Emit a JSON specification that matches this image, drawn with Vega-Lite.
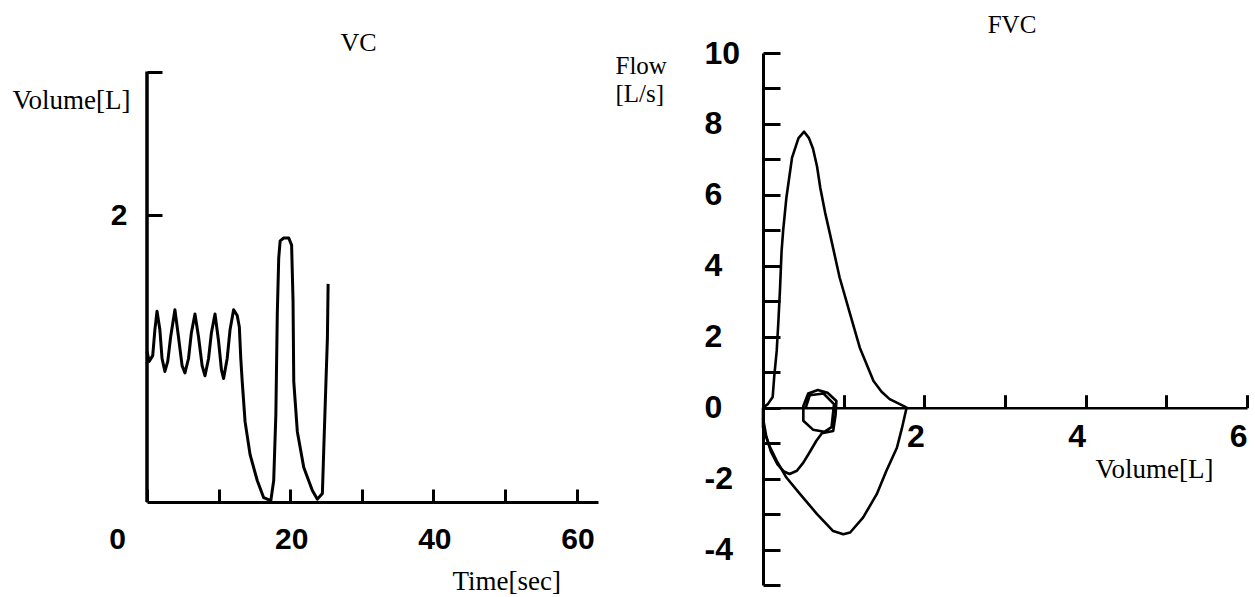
{
  "$schema": "https://vega.github.io/schema/vega-lite/v6.json",
  "background": "white",
  "padding": {"left": 12, "top": 13, "right": 0, "bottom": 0},
  "bounds": "flush",
  "spacing": 165,
  "config": {
    "view": {"stroke": null},
    "title": {"font": "Liberation Serif", "fontWeight": "normal", "fontSize": 25, "color": "black"},
    "axis": {
      "grid": false,
      "domainColor": "black",
      "tickColor": "black",
      "labelColor": "black",
      "titleColor": "black",
      "domainWidth": 3,
      "tickWidth": 3,
      "labelFont": "Liberation Sans",
      "labelFontWeight": "bold",
      "labelFontSize": 30,
      "titleFont": "Liberation Serif",
      "titleFontWeight": "normal",
      "titleFontSize": 27,
      "labelOverlap": false,
      "labelFlush": false,
      "labelBound": false
    }
  },
  "datasets": {
    "vc": [
      {"i": 0, "t": 0, "v": 1.05}, {"i": 1, "t": 0.3, "v": 0.98}, {"i": 2, "t": 0.8, "v": 1.02},
      {"i": 3, "t": 1.1, "v": 1.2}, {"i": 4, "t": 1.4, "v": 1.33}, {"i": 5, "t": 1.8, "v": 1.2},
      {"i": 6, "t": 2.1, "v": 1.0}, {"i": 7, "t": 2.5, "v": 0.91}, {"i": 8, "t": 2.9, "v": 0.98},
      {"i": 9, "t": 3.3, "v": 1.15}, {"i": 10, "t": 3.9, "v": 1.34}, {"i": 11, "t": 4.4, "v": 1.15},
      {"i": 12, "t": 4.9, "v": 0.95}, {"i": 13, "t": 5.3, "v": 0.9}, {"i": 14, "t": 5.8, "v": 1.0},
      {"i": 15, "t": 6.2, "v": 1.18}, {"i": 16, "t": 6.7, "v": 1.31}, {"i": 17, "t": 7.2, "v": 1.15},
      {"i": 18, "t": 7.7, "v": 0.95}, {"i": 19, "t": 8.1, "v": 0.88}, {"i": 20, "t": 8.6, "v": 1.0},
      {"i": 21, "t": 9.0, "v": 1.18}, {"i": 22, "t": 9.5, "v": 1.31}, {"i": 23, "t": 10.0, "v": 1.12},
      {"i": 24, "t": 10.4, "v": 0.92}, {"i": 25, "t": 10.7, "v": 0.86}, {"i": 26, "t": 11.2, "v": 1.0},
      {"i": 27, "t": 11.6, "v": 1.2}, {"i": 28, "t": 12.1, "v": 1.34}, {"i": 29, "t": 12.6, "v": 1.3},
      {"i": 30, "t": 12.9, "v": 1.22}, {"i": 31, "t": 13.1, "v": 1.0}, {"i": 32, "t": 13.3, "v": 0.84},
      {"i": 33, "t": 13.7, "v": 0.56}, {"i": 34, "t": 14.4, "v": 0.33}, {"i": 35, "t": 15.4, "v": 0.15},
      {"i": 36, "t": 16.3, "v": 0.03}, {"i": 37, "t": 17.3, "v": 0.01}, {"i": 38, "t": 17.7, "v": 0.15},
      {"i": 39, "t": 18.0, "v": 0.61}, {"i": 40, "t": 18.2, "v": 1.31}, {"i": 41, "t": 18.4, "v": 1.7},
      {"i": 42, "t": 18.6, "v": 1.82}, {"i": 43, "t": 19.1, "v": 1.84}, {"i": 44, "t": 19.8, "v": 1.84},
      {"i": 45, "t": 20.2, "v": 1.79}, {"i": 46, "t": 20.4, "v": 1.4}, {"i": 47, "t": 20.5, "v": 0.84},
      {"i": 48, "t": 21.0, "v": 0.49}, {"i": 49, "t": 21.9, "v": 0.24}, {"i": 50, "t": 23.1, "v": 0.08},
      {"i": 51, "t": 23.8, "v": 0.02}, {"i": 52, "t": 24.5, "v": 0.06}, {"i": 53, "t": 24.7, "v": 0.38},
      {"i": 54, "t": 25.0, "v": 0.84}, {"i": 55, "t": 25.2, "v": 1.14}, {"i": 56, "t": 25.3, "v": 1.52}
    ],
    "vcaxis": [{"t": 0, "v": 0, "v2": 3}],
    "fvc": [
      {"s": "a", "i": 0, "vol": 0, "f": 0}, {"s": "a", "i": 1, "vol": 0.06, "f": 0.1},
      {"s": "a", "i": 2, "vol": 0.12, "f": 0.3}, {"s": "a", "i": 3, "vol": 0.14, "f": 0.9},
      {"s": "a", "i": 4, "vol": 0.17, "f": 1.6}, {"s": "a", "i": 5, "vol": 0.19, "f": 2.4},
      {"s": "a", "i": 6, "vol": 0.21, "f": 3.3}, {"s": "a", "i": 7, "vol": 0.23, "f": 4.4},
      {"s": "a", "i": 8, "vol": 0.25, "f": 5.0}, {"s": "a", "i": 9, "vol": 0.29, "f": 5.92},
      {"s": "a", "i": 10, "vol": 0.36, "f": 7.05}, {"s": "a", "i": 11, "vol": 0.44, "f": 7.6},
      {"s": "a", "i": 12, "vol": 0.51, "f": 7.78}, {"s": "a", "i": 13, "vol": 0.57, "f": 7.6},
      {"s": "a", "i": 14, "vol": 0.62, "f": 7.3}, {"s": "a", "i": 15, "vol": 0.67, "f": 6.8},
      {"s": "a", "i": 16, "vol": 0.71, "f": 6.2}, {"s": "a", "i": 17, "vol": 0.77, "f": 5.5},
      {"s": "a", "i": 18, "vol": 0.83, "f": 4.9}, {"s": "a", "i": 19, "vol": 0.95, "f": 3.67},
      {"s": "a", "i": 20, "vol": 1.08, "f": 2.64}, {"s": "a", "i": 21, "vol": 1.2, "f": 1.69},
      {"s": "a", "i": 22, "vol": 1.37, "f": 0.75}, {"s": "a", "i": 23, "vol": 1.47, "f": 0.45},
      {"s": "a", "i": 24, "vol": 1.57, "f": 0.24}, {"s": "a", "i": 25, "vol": 1.74, "f": 0.05},
      {"s": "a", "i": 26, "vol": 1.78, "f": 0}, {"s": "a", "i": 27, "vol": 1.72, "f": -0.6},
      {"s": "a", "i": 28, "vol": 1.66, "f": -1.13}, {"s": "a", "i": 29, "vol": 1.53, "f": -1.78},
      {"s": "a", "i": 30, "vol": 1.41, "f": -2.44}, {"s": "a", "i": 31, "vol": 1.24, "f": -3.1},
      {"s": "a", "i": 32, "vol": 1.08, "f": -3.52}, {"s": "a", "i": 33, "vol": 0.995, "f": -3.57},
      {"s": "a", "i": 34, "vol": 0.87, "f": -3.48}, {"s": "a", "i": 35, "vol": 0.67, "f": -3.0},
      {"s": "a", "i": 36, "vol": 0.46, "f": -2.44}, {"s": "a", "i": 37, "vol": 0.29, "f": -1.97},
      {"s": "a", "i": 38, "vol": 0.17, "f": -1.5}, {"s": "a", "i": 39, "vol": 0.07, "f": -1.03},
      {"s": "a", "i": 40, "vol": 0.0, "f": -0.56}, {"s": "a", "i": 41, "vol": 0, "f": 0},
      {"s": "b", "i": 0, "vol": 0, "f": -0.3}, {"s": "b", "i": 1, "vol": 0.04, "f": -0.8},
      {"s": "b", "i": 2, "vol": 0.1, "f": -1.25}, {"s": "b", "i": 3, "vol": 0.18, "f": -1.6},
      {"s": "b", "i": 4, "vol": 0.26, "f": -1.8}, {"s": "b", "i": 5, "vol": 0.33, "f": -1.87},
      {"s": "b", "i": 6, "vol": 0.42, "f": -1.78}, {"s": "b", "i": 7, "vol": 0.5, "f": -1.55},
      {"s": "b", "i": 8, "vol": 0.58, "f": -1.25}, {"s": "b", "i": 9, "vol": 0.66, "f": -0.94},
      {"s": "b", "i": 10, "vol": 0.73, "f": -0.72}, {"s": "b", "i": 11, "vol": 0.87, "f": -0.66},
      {"s": "b", "i": 12, "vol": 0.9, "f": -0.2}, {"s": "b", "i": 13, "vol": 0.91, "f": 0.19},
      {"s": "b", "i": 14, "vol": 0.8, "f": 0.42}, {"s": "b", "i": 15, "vol": 0.68, "f": 0.5},
      {"s": "b", "i": 16, "vol": 0.56, "f": 0.4}, {"s": "b", "i": 17, "vol": 0.5, "f": 0.05},
      {"s": "b", "i": 18, "vol": 0.5, "f": -0.37}, {"s": "b", "i": 19, "vol": 0.62, "f": -0.62},
      {"s": "b", "i": 20, "vol": 0.76, "f": -0.68}, {"s": "b", "i": 21, "vol": 0.85, "f": -0.55},
      {"s": "b", "i": 22, "vol": 0.88, "f": 0.1}, {"s": "b", "i": 23, "vol": 0.75, "f": 0.4},
      {"s": "b", "i": 24, "vol": 0.58, "f": 0.35}, {"s": "b", "i": 25, "vol": 0.53, "f": 0}
    ]
  },
  "hconcat": [
    {
      "width": 451,
      "height": 449,
      "title": {"text": "VC", "fontSize": 26, "offset": -3, "dx": -14},
      "layer": [
        {
          "data": {"name": "vcaxis"},
          "mark": {"type": "rule", "color": "black", "strokeWidth": 3.5},
          "encoding": {
            "x": {"field": "t", "type": "quantitative", "scale": {"domain": [0, 63]}},
            "y": {"field": "v", "type": "quantitative", "scale": {"domain": [0, 3.129]}},
            "y2": {"field": "v2"}
          }
        },
        {
          "data": {"name": "vc"},
          "mark": {"type": "line", "color": "black", "strokeWidth": 3, "strokeJoin": "round"},
          "encoding": {
            "order": {"field": "i", "type": "quantitative"},
            "x": {
              "field": "t", "type": "quantitative",
              "scale": {"domain": [0, 63], "nice": false, "zero": false},
              "axis": {
                "values": [0, 10, 20, 30, 40, 50, 60],
                "tickSize": -13,
                "labelPadding": 35,
                "labelExpr": "datum.value % 20 === 0 ? '' + datum.value : ''",
                "labelOffset": {"condition": {"test": "datum.value === 0", "value": -30}, "value": 1},
                "title": "Time[sec]",
                "titleX": 305,
                "titleY": 87,
                "titleAlign": "left",
                "titleBaseline": "alphabetic"
              }
            },
            "y": {
              "field": "v", "type": "quantitative",
              "scale": {"domain": [0, 3.129], "nice": false, "zero": false},
              "axis": {
                "domain": false,
                "values": [2, 3],
                "tickSize": -15,
                "labelPadding": 35,
                "labelExpr": "datum.value === 2 ? '2' : ''",
                "title": "Volume[L]",
                "titleAngle": 0,
                "titleX": -135,
                "titleY": 55,
                "titleAlign": "left",
                "titleBaseline": "alphabetic"
              }
            }
          }
        }
      ]
    },
    {
      "width": 484,
      "height": 532,
      "title": {"text": "FVC", "fontSize": 25, "offset": -1, "dx": 7},
      "data": {"name": "fvc"},
      "mark": {"type": "line", "color": "black", "strokeWidth": 2.6, "strokeJoin": "round"},
      "encoding": {
        "detail": {"field": "s"},
        "order": {"field": "i", "type": "quantitative"},
        "x": {
          "field": "vol", "type": "quantitative",
          "scale": {"domain": [0, 6], "nice": false, "zero": false},
          "axis": {
            "offset": -177.3,
            "domainWidth": 2.5,
            "values": [0, 1, 2, 3, 4, 5, 6],
            "tickSize": -13,
            "labelPadding": 27,
            "labelAlign": "right",
            "labelFontSize": 32,
            "labelExpr": "datum.value > 0 && datum.value % 2 === 0 ? '' + datum.value : ''",
            "title": "Volume[L]",
            "titleX": 332,
            "titleY": 70,
            "titleAlign": "left",
            "titleBaseline": "alphabetic"
          }
        },
        "y": {
          "field": "f", "type": "quantitative",
          "scale": {"domain": [-5, 10], "nice": false, "zero": false},
          "axis": {
            "values": [-5, -4, -3, -2, -1, 0, 1, 2, 3, 4, 5, 6, 7, 8, 9, 10],
            "tickSize": -17,
            "labelPadding": 76,
            "labelAlign": "left",
            "labelFontSize": 32,
            "labelExpr": "datum.value % 2 === 0 ? '' + datum.value : ''",
            "title": ["Flow", "[L/s]"],
            "titleFontSize": 25,
            "titleLineHeight": 28,
            "titleAngle": 0,
            "titleX": -148,
            "titleY": 20,
            "titleAlign": "left",
            "titleBaseline": "alphabetic"
          }
        }
      }
    }
  ]
}
